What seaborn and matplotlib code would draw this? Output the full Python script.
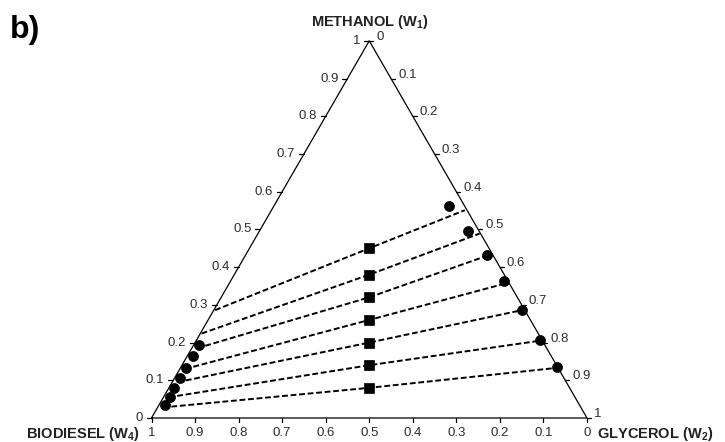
import numpy as np
import pandas as pd
import seaborn as sns
import matplotlib.pyplot as plt

# mass fractions: w1 = methanol, w2 = glycerol, w4 = biodiesel (= 1 - w1 - w2)
# feed points (squares), w2 = w4
feed_w1 = [0.45, 0.38, 0.32, 0.26, 0.20, 0.14, 0.08]

# experimental phases (circles)
exp_gly_w1 = [0.562, 0.495, 0.433, 0.364, 0.286, 0.207, 0.134]
exp_gly_w2 = [0.402, 0.480, 0.553, 0.627, 0.708, 0.789, 0.864]
exp_bio_w1 = [0.193, 0.164, 0.132, 0.105, 0.079, 0.056, 0.034]
exp_bio_w2 = [0.013, 0.013, 0.013, 0.013, 0.013, 0.014, 0.015]

# calculated tie lines (dashed)
calc_gly_w1 = [0.551, 0.489, 0.430, 0.355, 0.286, 0.205, 0.133]
calc_gly_w2 = [0.444, 0.509, 0.555, 0.630, 0.708, 0.790, 0.865]
calc_bio_w1 = [0.286, 0.224, 0.185, 0.130, 0.095, 0.055, 0.028]
calc_bio_w2 = [0.003, 0.003, 0.012, 0.012, 0.012, 0.012, 0.012]

ticks = [0, 0.1, 0.2, 0.3, 0.4, 0.5, 0.6, 0.7, 0.8, 0.9, 1]
tick_labels = ['0', '0.1', '0.2', '0.3', '0.4', '0.5', '0.6', '0.7', '0.8', '0.9', '1']

H = np.sqrt(3) / 2


def to_xy(w1, w2):
    w1 = np.asarray(w1, float)
    w2 = np.asarray(w2, float)
    return w2 + w1 / 2, w1 * H


sns.set_style('white')
plt.rcParams['font.family'] = ['Liberation Sans', 'DejaVu Sans']
plt.rcParams['mathtext.default'] = 'regular'

W, Hpx = 725, 442
fig = plt.figure(figsize=(W / 100, Hpx / 100), dpi=100)
ax = fig.add_axes([0, 0, 1, 1])
ax.axis('off')

# pixel geometry of the triangle
scale = 435.5
x0, ybase = 151.5, 418
ax.set_xlim(-x0 / scale, (W - x0) / scale)
ax.set_ylim(-(Hpx - ybase) / scale, ybase / scale)
px = 1 / scale

# triangle
ax.plot([0, 1, 0.5, 0], [0, 0, H, 0], color='black', lw=0.9)

lab_col = '#2e2e2e'
for t, lab in zip(ticks, tick_labels):
    # bottom axis: biodiesel w4, 1 at left
    bx = 1 - t
    ax.plot([bx, bx], [0, -4 * px], color='black', lw=0.9)
    ax.text(bx, -15 * px, lab, ha='center', va='center', fontsize=9.5, color=lab_col)
    # left axis: methanol w1, 0 at bottom
    lx, ly = t / 2, t * H
    ax.plot([lx, lx - 5 * px], [ly, ly], color='black', lw=0.9)
    ax.text(lx - 9 * px, ly, lab, ha='right', va='center', fontsize=9.5, color=lab_col)
    # right axis: glycerol w2, 0 at top
    rx, ry = t + (1 - t) / 2, (1 - t) * H
    ax.plot([rx, rx + 4 * px], [ry, ry], color='black', lw=0.9)
    ax.text(rx + 7 * px, ry + 4 * px, lab, ha='left', va='center', fontsize=9.5, color=lab_col)

# tie lines: biodiesel-rich end -> feed -> glycerol-rich end
rows = []
for i in range(len(feed_w1)):
    fw1 = feed_w1[i]
    pts = [(calc_bio_w1[i], calc_bio_w2[i]), (fw1, (1 - fw1) / 2), (calc_gly_w1[i], calc_gly_w2[i])]
    for k, (a, b) in enumerate(pts):
        x, y = to_xy(a, b)
        rows.append({'tie': i, 'order': k, 'x': float(x), 'y': float(y)})
lines = pd.DataFrame(rows)
sns.lineplot(data=lines, x='x', y='y', units='tie', estimator=None, sort=False,
             color='black', lw=1.4, linestyle=(0, (3.0, 1.4)), legend=False, ax=ax)

fx, fy = to_xy(feed_w1, (1 - np.asarray(feed_w1)) / 2)
sns.scatterplot(x=fx, y=fy, marker='s', color='black', s=52, edgecolor='black',
                linewidth=0.5, zorder=5, ax=ax)

gx, gy = to_xy(exp_gly_w1, exp_gly_w2)
bx_, by_ = to_xy(exp_bio_w1, exp_bio_w2)
sns.scatterplot(x=np.r_[gx, bx_], y=np.r_[gy, by_], marker='o', color='black', s=52,
                edgecolor='black', linewidth=0.5, zorder=5, ax=ax)

# axis titles
fig.text(370 / W, 1 - 22 / Hpx, 'METHANOL (W$_1$)', ha='center', va='center',
         fontsize=10.5, fontweight='bold', color='#222222')
fig.text(140 / W, 1 - 434 / Hpx, 'BIODIESEL (W$_4$)', ha='right', va='center',
         fontsize=10.5, fontweight='bold', color='#222222')
fig.text(597 / W, 1 - 434 / Hpx, 'GLYCEROL (W$_2$)', ha='left', va='center',
         fontsize=10.5, fontweight='bold', color='#222222')
fig.text(10 / W, 1 - 30 / Hpx, 'b)', ha='left', va='center',
         fontsize=23, fontweight='bold', color='black')

fig.savefig('out.png', dpi=100)
